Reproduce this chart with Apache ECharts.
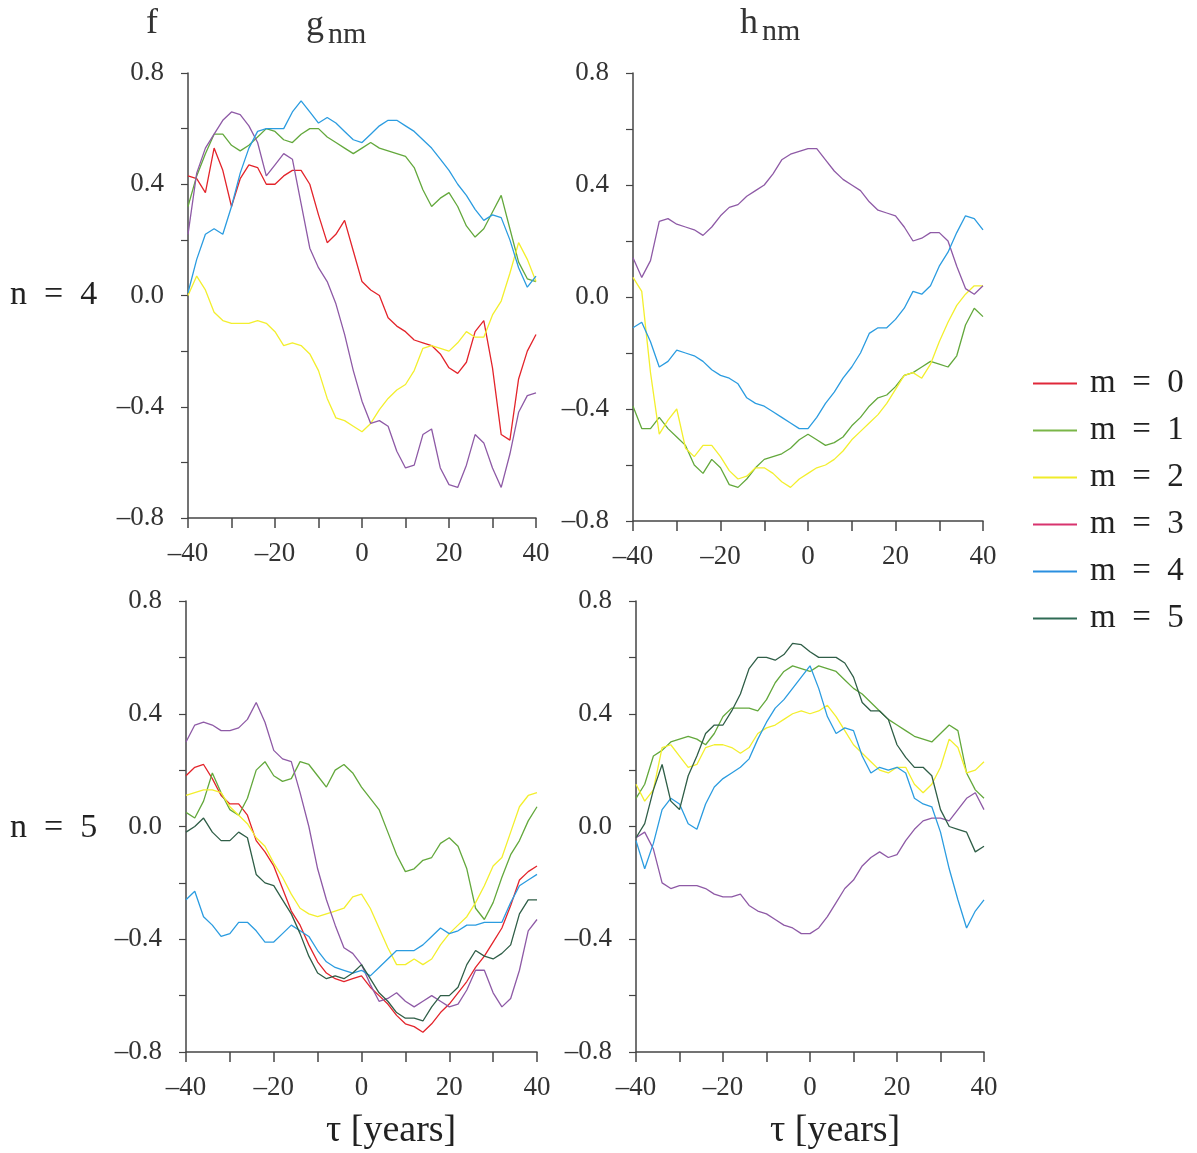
<!DOCTYPE html>
<html>
<head>
    <meta charset="utf-8">
    <title>g_nm / h_nm correlation</title>
    <script src="https://cdn.jsdelivr.net/npm/echarts@6/dist/echarts.min.js"></script>
    <style>
        body { margin: 0; background: #fff; }
        #main { width: 1197px; height: 1153px; }
    </style>
</head>
<body>
<div id="main"></div>
<script type="text/javascript">
    // lag tau in years
    var tau = [-40, -38, -36, -34, -32, -30, -28, -26, -24, -22, -20, -18, -16, -14, -12, -10, -8, -6, -4, -2,
        0, 2, 4, 6, 8, 10, 12, 14, 16, 18, 20, 22, 24, 26, 28, 30, 32, 34, 36, 38, 40];

    // g, n = 4
    var g4_m0 = [0.43, 0.42, 0.37, 0.53, 0.45, 0.32, 0.42, 0.47, 0.46, 0.40, 0.40, 0.43, 0.45, 0.45, 0.40, 0.29, 0.19, 0.22, 0.27, 0.16,
        0.05, 0.02, 0.00, -0.08, -0.11, -0.13, -0.16, -0.17, -0.18, -0.21, -0.26, -0.28, -0.24, -0.13, -0.09, -0.26, -0.50, -0.52, -0.30, -0.20, -0.14];
    var g4_m1 = [0.32, 0.43, 0.51, 0.58, 0.58, 0.54, 0.52, 0.54, 0.57, 0.60, 0.59, 0.56, 0.55, 0.58, 0.60, 0.60, 0.57, 0.55, 0.53, 0.51,
        0.53, 0.55, 0.53, 0.52, 0.51, 0.50, 0.46, 0.38, 0.32, 0.35, 0.37, 0.32, 0.25, 0.21, 0.24, 0.30, 0.36, 0.24, 0.12, 0.06, 0.05];
    var g4_m2 = [0.00, 0.07, 0.02, -0.06, -0.09, -0.10, -0.10, -0.10, -0.09, -0.10, -0.13, -0.18, -0.17, -0.18, -0.21, -0.27, -0.37, -0.44, -0.45, -0.47,
        -0.49, -0.46, -0.41, -0.37, -0.34, -0.32, -0.27, -0.19, -0.18, -0.19, -0.20, -0.17, -0.13, -0.15, -0.15, -0.07, -0.02, 0.08, 0.19, 0.13, 0.05];
    var g4_m3 = [0.22, 0.44, 0.53, 0.58, 0.63, 0.66, 0.65, 0.61, 0.55, 0.43, 0.47, 0.51, 0.49, 0.33, 0.17, 0.10, 0.05, -0.03, -0.14, -0.27,
        -0.38, -0.46, -0.45, -0.47, -0.56, -0.62, -0.61, -0.50, -0.48, -0.62, -0.68, -0.69, -0.61, -0.50, -0.53, -0.62, -0.69, -0.57, -0.42, -0.36, -0.35];
    var g4_m4 = [0.01, 0.13, 0.22, 0.24, 0.22, 0.32, 0.44, 0.53, 0.59, 0.60, 0.60, 0.60, 0.66, 0.70, 0.66, 0.62, 0.64, 0.62, 0.59, 0.56,
        0.55, 0.58, 0.61, 0.63, 0.63, 0.61, 0.59, 0.56, 0.53, 0.49, 0.45, 0.40, 0.36, 0.31, 0.27, 0.29, 0.28, 0.20, 0.10, 0.03, 0.07];

    // h, n = 4
    var h4_m1 = [-0.39, -0.47, -0.47, -0.43, -0.47, -0.50, -0.53, -0.60, -0.63, -0.58, -0.61, -0.67, -0.68, -0.65, -0.61, -0.58, -0.57, -0.56, -0.54, -0.51,
        -0.49, -0.51, -0.53, -0.52, -0.50, -0.46, -0.43, -0.39, -0.36, -0.35, -0.32, -0.28, -0.27, -0.25, -0.23, -0.24, -0.25, -0.21, -0.10, -0.04, -0.07];
    var h4_m2 = [0.07, 0.02, -0.27, -0.49, -0.44, -0.40, -0.54, -0.57, -0.53, -0.53, -0.57, -0.62, -0.65, -0.64, -0.61, -0.61, -0.63, -0.66, -0.68, -0.65,
        -0.63, -0.61, -0.60, -0.58, -0.55, -0.51, -0.48, -0.45, -0.42, -0.38, -0.33, -0.28, -0.27, -0.29, -0.24, -0.16, -0.09, -0.03, 0.01, 0.04, 0.04];
    var h4_m3 = [0.14, 0.07, 0.13, 0.27, 0.28, 0.26, 0.25, 0.24, 0.22, 0.25, 0.29, 0.32, 0.33, 0.36, 0.38, 0.40, 0.44, 0.49, 0.51, 0.52,
        0.53, 0.53, 0.49, 0.45, 0.42, 0.40, 0.38, 0.34, 0.31, 0.30, 0.29, 0.25, 0.20, 0.21, 0.23, 0.23, 0.20, 0.11, 0.03, 0.01, 0.04];
    var h4_m4 = [-0.11, -0.09, -0.16, -0.25, -0.23, -0.19, -0.20, -0.21, -0.23, -0.26, -0.28, -0.29, -0.31, -0.36, -0.38, -0.39, -0.41, -0.43, -0.45, -0.47,
        -0.47, -0.43, -0.38, -0.34, -0.29, -0.25, -0.20, -0.13, -0.11, -0.11, -0.08, -0.04, 0.02, 0.01, 0.04, 0.11, 0.16, 0.23, 0.29, 0.28, 0.24];

    // g, n = 5
    var g5_m0 = [0.18, 0.21, 0.22, 0.17, 0.11, 0.08, 0.08, 0.04, -0.05, -0.09, -0.14, -0.22, -0.30, -0.35, -0.42, -0.48, -0.52, -0.54, -0.55, -0.54,
        -0.53, -0.57, -0.60, -0.63, -0.67, -0.70, -0.71, -0.73, -0.70, -0.66, -0.63, -0.59, -0.55, -0.50, -0.46, -0.41, -0.36, -0.28, -0.19, -0.16, -0.14];
    var g5_m1 = [0.05, 0.03, 0.09, 0.19, 0.12, 0.06, 0.04, 0.10, 0.20, 0.23, 0.18, 0.16, 0.17, 0.23, 0.22, 0.18, 0.14, 0.20, 0.22, 0.19,
        0.14, 0.10, 0.06, -0.02, -0.10, -0.16, -0.15, -0.12, -0.11, -0.06, -0.04, -0.07, -0.15, -0.29, -0.33, -0.27, -0.18, -0.10, -0.05, 0.02, 0.07];
    var g5_m2 = [0.11, 0.12, 0.13, 0.13, 0.12, 0.07, 0.04, 0.01, -0.04, -0.07, -0.13, -0.18, -0.24, -0.29, -0.31, -0.32, -0.31, -0.30, -0.29, -0.25,
        -0.24, -0.29, -0.36, -0.43, -0.49, -0.49, -0.47, -0.49, -0.47, -0.42, -0.38, -0.35, -0.32, -0.27, -0.21, -0.14, -0.11, -0.02, 0.07, 0.11, 0.12];
    var g5_m3 = [0.30, 0.36, 0.37, 0.36, 0.34, 0.34, 0.35, 0.38, 0.44, 0.37, 0.27, 0.24, 0.23, 0.12, 0.00, -0.15, -0.26, -0.35, -0.43, -0.45,
        -0.49, -0.56, -0.62, -0.61, -0.59, -0.62, -0.64, -0.62, -0.60, -0.62, -0.64, -0.63, -0.58, -0.51, -0.51, -0.59, -0.64, -0.61, -0.51, -0.37, -0.33];
    var g5_m4 = [-0.26, -0.23, -0.32, -0.35, -0.39, -0.38, -0.34, -0.34, -0.37, -0.41, -0.41, -0.38, -0.35, -0.37, -0.39, -0.44, -0.48, -0.50, -0.51, -0.52,
        -0.51, -0.53, -0.50, -0.47, -0.44, -0.44, -0.44, -0.42, -0.39, -0.36, -0.38, -0.37, -0.35, -0.35, -0.34, -0.34, -0.34, -0.27, -0.21, -0.19, -0.17];
    var g5_m5 = [-0.02, 0.00, 0.03, -0.02, -0.05, -0.05, -0.02, -0.04, -0.17, -0.20, -0.21, -0.26, -0.31, -0.38, -0.46, -0.52, -0.54, -0.53, -0.54, -0.52,
        -0.49, -0.54, -0.59, -0.62, -0.66, -0.68, -0.68, -0.69, -0.64, -0.60, -0.60, -0.57, -0.49, -0.44, -0.46, -0.47, -0.45, -0.42, -0.31, -0.26, -0.26];

    // h, n = 5
    var h5_m1 = [0.10, 0.15, 0.25, 0.27, 0.30, 0.31, 0.32, 0.31, 0.29, 0.33, 0.39, 0.42, 0.42, 0.42, 0.41, 0.45, 0.51, 0.55, 0.57, 0.56,
        0.55, 0.57, 0.56, 0.55, 0.52, 0.49, 0.47, 0.44, 0.41, 0.38, 0.36, 0.34, 0.32, 0.31, 0.30, 0.33, 0.36, 0.34, 0.19, 0.13, 0.10];
    var h5_m2 = [0.15, 0.09, 0.13, 0.28, 0.29, 0.25, 0.21, 0.22, 0.28, 0.29, 0.29, 0.28, 0.26, 0.28, 0.33, 0.35, 0.36, 0.38, 0.40, 0.41,
        0.40, 0.41, 0.43, 0.39, 0.34, 0.29, 0.26, 0.23, 0.20, 0.19, 0.21, 0.21, 0.15, 0.12, 0.15, 0.21, 0.31, 0.28, 0.19, 0.20, 0.23];
    var h5_m3 = [-0.04, -0.02, -0.08, -0.20, -0.22, -0.21, -0.21, -0.21, -0.22, -0.24, -0.25, -0.25, -0.24, -0.28, -0.30, -0.31, -0.33, -0.35, -0.36, -0.38,
        -0.38, -0.36, -0.32, -0.27, -0.22, -0.19, -0.14, -0.11, -0.09, -0.11, -0.10, -0.05, -0.01, 0.02, 0.03, 0.03, 0.02, 0.06, 0.10, 0.12, 0.06];
    var h5_m4 = [-0.05, -0.15, -0.06, 0.06, 0.10, 0.08, 0.01, -0.01, 0.08, 0.14, 0.17, 0.19, 0.21, 0.24, 0.31, 0.37, 0.42, 0.45, 0.49, 0.53,
        0.57, 0.49, 0.39, 0.33, 0.35, 0.34, 0.25, 0.19, 0.21, 0.20, 0.21, 0.19, 0.10, 0.08, 0.07, -0.02, -0.15, -0.26, -0.36, -0.30, -0.26];
    var h5_m5 = [-0.04, 0.01, 0.13, 0.22, 0.09, 0.06, 0.18, 0.25, 0.33, 0.36, 0.36, 0.41, 0.47, 0.56, 0.60, 0.60, 0.59, 0.61, 0.65, 0.645,
        0.62, 0.60, 0.60, 0.60, 0.58, 0.53, 0.44, 0.41, 0.41, 0.38, 0.29, 0.245, 0.21, 0.21, 0.18, 0.06, 0.00, -0.01, -0.02, -0.09, -0.07];

    var mNames = ['m = 0', 'm = 1', 'm = 2', 'm = 3', 'm = 4', 'm = 5'];
    var mColors = ['#e3242b', '#63a83c', '#f3ef2e', '#8e5aa6', '#2b9ce0', '#2f5e47'];

    var FONT = '"Liberation Serif", "DejaVu Serif", serif';

    // one entry per panel: grid box + the curves it holds
    var panels = [
        { grid: { left: 188, top: 73, width: 348, height: 445 }, lines: [[0, g4_m0], [1, g4_m1], [2, g4_m2], [3, g4_m3], [4, g4_m4]] },
        { grid: { left: 633, top: 73, width: 350, height: 448 }, lines: [[1, h4_m1], [2, h4_m2], [3, h4_m3], [4, h4_m4]] },
        { grid: { left: 186, top: 601, width: 351, height: 451 }, lines: [[0, g5_m0], [1, g5_m1], [2, g5_m2], [3, g5_m3], [4, g5_m4], [5, g5_m5]] },
        { grid: { left: 636, top: 601, width: 348, height: 451 }, lines: [[1, h5_m1], [2, h5_m2], [3, h5_m3], [4, h5_m4], [5, h5_m5]] }
    ];

    function dash(v) {
        return v < 0 ? '\u2013' : '';
    }
    function fmtY(v) {
        var k = Math.round(v / 0.4);
        if (Math.abs(v - k * 0.4) > 1e-6) return '';
        return dash(v) + Math.abs(k * 0.4).toFixed(1);
    }
    function fmtX(v) {
        if (Math.round(v) % 20 !== 0) return '';
        return dash(v) + Math.abs(Math.round(v));
    }

    var axisColor = '#454545';
    var labelStyle = { fontFamily: FONT, fontSize: 27, color: '#333' };

    var grids = [], xAxes = [], yAxes = [], series = [];
    panels.forEach(function (p, i) {
        grids.push(p.grid);
        xAxes.push({
            type: 'value', gridIndex: i, min: -40, max: 40, interval: 10,
            axisLine: { onZero: false, lineStyle: { color: axisColor, width: 1.5 } },
            axisTick: { length: 10, lineStyle: { color: axisColor, width: 1.5 } },
            splitLine: { show: false },
            axisLabel: Object.assign({ formatter: fmtX, margin: 22 }, labelStyle)
        });
        yAxes.push({
            type: 'value', gridIndex: i, min: -0.8, max: 0.8, interval: 0.2,
            axisLine: { show: true, onZero: false, lineStyle: { color: axisColor, width: 1.5 } },
            axisTick: { show: true, length: 7, lineStyle: { color: axisColor, width: 1.2 } },
            splitLine: { show: false },
            axisLabel: Object.assign({ formatter: fmtY, margin: 24 }, labelStyle)
        });
        p.lines.forEach(function (ln) {
            var m = ln[0], vals = ln[1];
            series.push({
                name: mNames[m],
                type: 'line',
                xAxisIndex: i,
                yAxisIndex: i,
                showSymbol: false,
                symbol: 'none',
                data: tau.map(function (t, j) { return [t, vals[j]]; }),
                lineStyle: { color: mColors[m], width: 1.3 },
                itemStyle: { color: mColors[m] },
                z: 2 + m
            });
        });
    });

    var legendColors = ['#e0283a', '#7ab648', '#f0ec2a', '#d8336e', '#2a8fe0', '#2f6b55'];

    var myChart = echarts.init(document.getElementById('main'));
    var option = {
        animation: false,
        backgroundColor: '#fff',
        grid: grids,
        xAxis: xAxes,
        yAxis: yAxes,
        legend: {
            orient: 'vertical',
            left: 1028,
            top: 362,
            icon: 'rect',
            itemWidth: 44,
            itemHeight: 2,
            itemGap: 14,
            selectedMode: false,
            textStyle: { fontFamily: FONT, fontSize: 33, lineHeight: 33, color: '#222', padding: [0, 0, 0, 8] },
            data: mNames.map(function (n, k) {
                return { name: n, itemStyle: { color: legendColors[k] } };
            }),
            formatter: function (name) { return name.replace(/ /g, '\u2002'); }
        },
        graphic: [
            { type: 'text', left: 146, top: 6, style: { text: 'f', font: '36px ' + FONT, fill: '#333' } },
            { type: 'text', left: 306, top: 8, style: { text: 'g', font: '36px ' + FONT, fill: '#333' } },
            { type: 'text', left: 328, top: 20, style: { text: 'nm', font: '30px ' + FONT, fill: '#333' } },
            { type: 'text', left: 740, top: 6, style: { text: 'h', font: '36px ' + FONT, fill: '#333' } },
            { type: 'text', left: 762, top: 17, style: { text: 'nm', font: '30px ' + FONT, fill: '#333' } },
            { type: 'text', left: 10, top: 278, style: { text: 'n\u2002=\u20024', font: '34px ' + FONT, fill: '#222' } },
            { type: 'text', left: 10, top: 811, style: { text: 'n\u2002=\u20025', font: '34px ' + FONT, fill: '#222' } },
            { type: 'text', left: 326, top: 1112, style: { text: '\u03c4 [years]', font: '38px ' + FONT, fill: '#222' } },
            { type: 'text', left: 770, top: 1112, style: { text: '\u03c4 [years]', font: '38px ' + FONT, fill: '#222' } }
        ],
        series: series
    };
    myChart.setOption(option);
</script>
</body>
</html>
